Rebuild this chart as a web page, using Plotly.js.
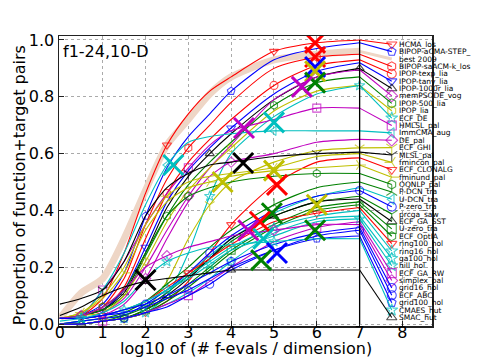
<!DOCTYPE html>
<html><head><meta charset="utf-8">
<script src="https://cdn.plot.ly/plotly-3.0.1.min.js"></script>
<style>html,body{margin:0;padding:0;background:#fff}</style>
</head><body><div id="chart" style="width:479px;height:359px"></div>
<script>
// log10(# f-evals / dimension) sample points
const xGrid = [0, 0.5, 1, 1.5, 2, 2.5, 3, 3.5, 4, 5, 6, 7];

const y_HCMA_los        = [0.02,0.03,0.09,0.25,0.46,0.63,0.74,0.82,0.87,0.96,0.99,1.00];
const y_BIPOP_aCMA      = [0.02,0.03,0.07,0.18,0.38,0.55,0.66,0.74,0.82,0.93,0.97,0.99];
const y_best2009        = [0.02,0.11,0.16,0.30,0.47,0.63,0.72,0.81,0.87,0.93,0.95,0.96];
const y_BIPOP_saACM     = [0.02,0.03,0.06,0.16,0.35,0.51,0.62,0.70,0.78,0.90,0.94,0.95];
const y_IPOP_texp       = [0.02,0.03,0.05,0.13,0.30,0.46,0.57,0.65,0.72,0.84,0.91,0.93];
const y_IPOP_tany       = [0.02,0.03,0.05,0.12,0.27,0.43,0.54,0.62,0.69,0.81,0.89,0.92];
const y_IPOP_1000r      = [0.02,0.03,0.05,0.11,0.25,0.41,0.52,0.60,0.67,0.79,0.87,0.90];
const y_memPSODE        = [0.02,0.02,0.04,0.09,0.20,0.33,0.45,0.55,0.63,0.79,0.87,0.895];
const y_IPOP_500        = [0.02,0.03,0.05,0.10,0.24,0.38,0.49,0.57,0.64,0.77,0.85,0.87];
const y_IPOP_lia        = [0.02,0.03,0.04,0.10,0.22,0.36,0.47,0.55,0.62,0.75,0.82,0.84];
const y_ECF_DE          = [0.00,0.00,0.01,0.02,0.04,0.10,0.25,0.45,0.60,0.73,0.81,0.84];
const y_HMLSL_pal       = [0.02,0.03,0.12,0.22,0.35,0.46,0.55,0.63,0.68,0.72,0.76,0.76];
const y_ImmCMA_aug      = [0.02,0.03,0.12,0.25,0.42,0.56,0.64,0.66,0.67,0.68,0.68,0.68];
const y_DE_pal          = [0.02,0.02,0.03,0.07,0.16,0.30,0.43,0.52,0.57,0.60,0.64,0.65];
const y_ECF_GHI         = [0.00,0.00,0.01,0.02,0.05,0.15,0.30,0.42,0.50,0.57,0.61,0.62];
const y_MLSL_pal        = [0.07,0.09,0.12,0.22,0.38,0.48,0.53,0.56,0.57,0.59,0.60,0.605];
const y_fmincon_pal     = [0.02,0.04,0.10,0.20,0.35,0.45,0.50,0.52,0.53,0.55,0.59,0.60];
const y_ECF_CLONALG     = [0.00,0.00,0.01,0.02,0.04,0.08,0.15,0.25,0.35,0.49,0.57,0.585];
const y_fminund_pal     = [0.02,0.04,0.09,0.18,0.33,0.43,0.48,0.50,0.52,0.54,0.55,0.56];
const y_OQNLP_pal       = [0.02,0.03,0.06,0.12,0.25,0.38,0.45,0.48,0.50,0.52,0.53,0.53];
const y_P_DCN_tra       = [0.00,0.01,0.02,0.04,0.08,0.14,0.20,0.27,0.33,0.42,0.48,0.50];
const y_U_DCN_tra       = [0.00,0.01,0.02,0.03,0.07,0.12,0.18,0.24,0.30,0.39,0.45,0.48];
const y_P_zero_tra      = [0.00,0.01,0.02,0.03,0.07,0.12,0.18,0.25,0.31,0.40,0.45,0.47];
const y_prcga_saw       = [0.00,0.00,0.01,0.03,0.06,0.11,0.17,0.23,0.29,0.38,0.43,0.45];
const y_ECF_GA_SST      = [0.00,0.00,0.01,0.02,0.05,0.10,0.16,0.23,0.30,0.38,0.43,0.44];
const y_U_zero_tra      = [0.00,0.00,0.01,0.02,0.05,0.09,0.14,0.20,0.26,0.35,0.41,0.43];
const y_ECF_OptIA       = [0.00,0.00,0.01,0.02,0.04,0.08,0.13,0.19,0.25,0.34,0.40,0.42];
const y_ring100_hol     = [0.02,0.02,0.03,0.05,0.08,0.13,0.18,0.23,0.28,0.36,0.39,0.41];
const y_ring16_hol      = [0.02,0.02,0.03,0.05,0.08,0.12,0.17,0.22,0.27,0.34,0.38,0.40];
const y_ga100_hol       = [0.00,0.00,0.01,0.02,0.04,0.07,0.11,0.16,0.22,0.32,0.37,0.38];
const y_hill_hol        = [0.02,0.02,0.03,0.05,0.08,0.12,0.16,0.21,0.26,0.31,0.36,0.37];
const y_ECF_GA_RW       = [0.00,0.00,0.01,0.02,0.04,0.07,0.10,0.15,0.20,0.29,0.34,0.36];
const y_simplex_pal     = [0.02,0.03,0.06,0.12,0.20,0.24,0.27,0.29,0.31,0.33,0.35,0.35];
const y_grid16_hol      = [0.02,0.02,0.03,0.05,0.07,0.10,0.14,0.18,0.22,0.28,0.32,0.34];
const y_ECF_ABC         = [0.00,0.00,0.01,0.02,0.04,0.06,0.10,0.14,0.19,0.26,0.31,0.33];
const y_grid100_hol     = [0.02,0.02,0.03,0.04,0.06,0.09,0.12,0.16,0.20,0.26,0.30,0.31];
const y_CMAES_hut       = [0.01,0.02,0.04,0.08,0.16,0.22,0.25,0.27,0.28,0.29,0.30,0.30];
const y_SMAC_hut        = [0.03,0.06,0.10,0.13,0.15,0.16,0.17,0.18,0.19,0.19,0.19,0.19];

const algNames = ["HCMA_los","BIPOP-aCMA-STEP_","best 2009","BIPOP-saACM-k_los","IPOP-texp_lia",
  "IPOP-tany_lia","IPOP-1000r_lia","memPSODE_vog","IPOP-500_lia","IPOP_lia","ECF_DE","HMLSL_pal",
  "ImmCMA_aug","DE_pal","ECF_GHI","MLSL_pal","fmincon_pal","ECF_CLONALG","fminund_pal","OQNLP_pal",
  "P-DCN_tra","U-DCN_tra","P-zero_tra","prcga_saw","ECF_GA_SST","U-zero_tra","ECF_OptIA",
  "ring100_hol","ring16_hol","ga100_hol","hill_hol","ECF_GA_RW","simplex_pal","grid16_hol",
  "ECF_ABC","grid100_hol","CMAES_hut","SMAC_hut"];
const algSeries = [y_HCMA_los,y_BIPOP_aCMA,y_best2009,y_BIPOP_saACM,y_IPOP_texp,y_IPOP_tany,
  y_IPOP_1000r,y_memPSODE,y_IPOP_500,y_IPOP_lia,y_ECF_DE,y_HMLSL_pal,y_ImmCMA_aug,y_DE_pal,
  y_ECF_GHI,y_MLSL_pal,y_fmincon_pal,y_ECF_CLONALG,y_fminund_pal,y_OQNLP_pal,y_P_DCN_tra,
  y_U_DCN_tra,y_P_zero_tra,y_prcga_saw,y_ECF_GA_SST,y_U_zero_tra,y_ECF_OptIA,y_ring100_hol,
  y_ring16_hol,y_ga100_hol,y_hill_hol,y_ECF_GA_RW,y_simplex_pal,y_grid16_hol,y_ECF_ABC,
  y_grid100_hol,y_CMAES_hut,y_SMAC_hut];
const algColorKeys = ["r","b","best","r","r","b","k","m","g","y","c","m","c","m","y","k","y","r","y","g",
  "g","c","b","g","k","g","g","r","c","c","c","m","m","b","b","b","c","k"];
const algSymbols = ["triangle-down","pentagon","","hexagon","circle","triangle-down","triangle-up","diamond",
  "hexagon","hexagon","star","square","triangle-left","diamond","y-down","y-down","y-left","triangle-down",
  "y-right","hexagon","y-up","triangle-left","circle","y-down","triangle-up","square","hexagon",
  "triangle-down","star","star","star","square","diamond","circle","circle","pentagon","star","triangle-up"];

// big cross marks
const crossX = [5.96,5.96,5.96,5.96,5.96,5.65,5.0,4.3,2.65,4.28,5.0,3.8,5.07,4.95,4.67,4.4,6.0,5.96,4.75,5.07,4.7,2.0];
const crossY = [0.99,0.94,0.905,0.89,0.85,0.835,0.71,0.69,0.56,0.567,0.54,0.50,0.49,0.39,0.36,0.33,0.42,0.33,0.30,0.25,0.225,0.155];
const crossC = ["r","r","b","y","g","m","c","m","c","k","y","y","r","g","r","m","y","g","c","b","g","k"];

const budgetX = 7;
const xTicks = [0,1,2,3,4,5,6,7,8];
const yTicks = [0.0,0.2,0.4,0.6,0.8,1.0];
const yTickText = ["0.0","0.2","0.4","0.6","0.8","1.0"];
const panelTitle = "f1-24,10-D";
const xTitle = "log10 of (# f-evals / dimension)";
const yTitle = "Proportion of function+target pairs";

const palette = {r:"#ff0000", b:"#0000ff", g:"#008000", c:"#00bfbf", m:"#bf00bf", y:"#bfbf00", k:"#000000", best:"rgb(238,214,198)"};

const traces = [];
const annotations = [];
const n = algNames.length;
const labelTop = 0.985, labelBottom = 0.023;
const fanX = 7.75, textX = 7.88;

algNames.forEach((name, i) => {
  const col = palette[algColorKeys[i]];
  const ys = algSeries[i];
  const isBest = algColorKeys[i] === "best";
  const sizes = xGrid.map((_, j) => ((j + i) % 4 === 1 && j > 0) ? 8 : 0);
  const tr = {
    x: xGrid, y: ys, type: "scatter",
    mode: isBest ? "lines" : "lines+markers",
    line: {color: col, width: isBest ? 7 : 1.1, shape: "spline", smoothing: 0.7},
    hoverinfo: "skip", showlegend: false
  };
  if (!isBest) {
    tr.marker = {symbol: algSymbols[i] + "-open", size: sizes, color: col,
                 line: {color: col, width: 1.1}};
  }
  if (isBest) traces.unshift(tr); else traces.push(tr);
  const ly = labelTop - i * (labelTop - labelBottom) / (n - 1);
  const fan = {
    x: [budgetX, fanX], y: [ys[ys.length - 1], ly], type: "scatter",
    mode: isBest ? "lines" : "lines+markers",
    line: {color: col, width: isBest ? 3 : 1.1},
    cliponaxis: false, hoverinfo: "skip", showlegend: false
  };
  if (!isBest) {
    fan.marker = {symbol: algSymbols[i] + "-open", size: [0, 9], color: col,
                  line: {color: col, width: 1.1}};
  }
  traces.push(fan);
  annotations.push({x: textX, y: ly, xref: "x", yref: "y", text: name, showarrow: false,
    xanchor: "left", yanchor: "middle", font: {family: "DejaVu Sans", size: 7.5, color: "#000"}});
});

traces.push({
  x: crossX, y: crossY, type: "scatter", mode: "markers",
  marker: {symbol: "x-thin-open", size: 20, color: crossC.map(k => palette[k]),
           line: {width: 3, color: crossC.map(k => palette[k])}},
  hoverinfo: "skip", showlegend: false
});

annotations.push({x: 0.005, y: 0.985, xref: "paper", yref: "paper", text: panelTitle, showarrow: false,
  xanchor: "left", yanchor: "top", font: {family: "DejaVu Sans", size: 16, color: "#000"}});
annotations.push({x: 0.5, y: -0.078, xref: "paper", yref: "paper", text: xTitle, showarrow: false,
  xanchor: "center", yanchor: "middle", font: {family: "DejaVu Sans", size: 16, color: "#000"}});
annotations.push({x: -0.107, y: 0.486, xref: "paper", yref: "paper", text: yTitle, showarrow: false,
  textangle: -90, xanchor: "center", yanchor: "middle", font: {family: "DejaVu Sans", size: 16, color: "#000"}});

const layout = {
  width: 479, height: 359,
  margin: {l: 59, r: 47, t: 36, b: 33, pad: 0},
  paper_bgcolor: "#fff", plot_bgcolor: "#fff",
  font: {family: "DejaVu Sans", size: 16, color: "#000"},
  xaxis: {range: [-0.02, 8.69], tickvals: xTicks, ticktext: xTicks.map(String),
    showgrid: true, gridcolor: "rgb(170,170,170)", griddash: "dot", gridwidth: 1,
    showline: true, mirror: true, linecolor: "#222", linewidth: 1.5,
    ticks: "inside", ticklen: 5, tickcolor: "#222", zeroline: false,
    ticklabelstandoff: -9, tickfont: {size: 16}},
  yaxis: {range: [-0.007, 1.014], tickvals: yTicks, ticktext: yTickText,
    showgrid: true, gridcolor: "rgb(170,170,170)", griddash: "dot", gridwidth: 1,
    showline: true, mirror: true, linecolor: "#222", linewidth: 1.5,
    ticks: "inside", ticklen: 5, tickcolor: "#222", zeroline: false,
    tickfont: {size: 16}},
  shapes: [{type: "line", xref: "x", yref: "y", x0: budgetX, x1: budgetX, y0: 0, y1: 1.0,
            line: {color: "#000", width: 1.3}}],
  annotations: annotations
};

Plotly.newPlot("chart", traces, layout, {staticPlot: true, displayModeBar: false});
</script></body></html>
